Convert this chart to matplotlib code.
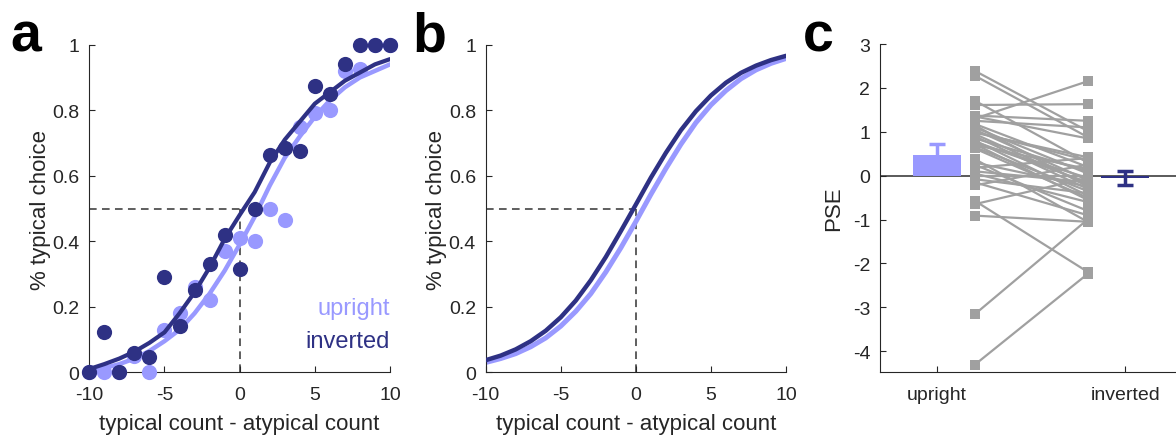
import numpy as np
import matplotlib
matplotlib.use("Agg")
import matplotlib.pyplot as plt

plt.rcParams["font.family"] = ["Liberation Sans", "DejaVu Sans"]
plt.rcParams["axes.unicode_minus"] = False

LIGHT = "#9999ff"
DARK = "#2e3184"
GRAY = "#a0a0a0"
AXC = "#262626"

# panel a: single-subject proportions
x_counts = np.arange(-10, 11)
up_prop = [0.0, 0.0, 0.0, 0.05, 0.0, 0.13, 0.18, 0.26, 0.22, 0.37, 0.41,
           0.40, 0.50, 0.465, 0.75, 0.79, 0.80, 0.92, 0.925, 1.0, 1.0]
inv_prop = [0.0, 0.124, 0.0, 0.06, 0.046, 0.29, 0.14, 0.25, 0.33, 0.42, 0.315,
            0.50, 0.663, 0.685, 0.675, 0.873, 0.85, 0.94, 1.0, 1.0, 1.0]
# panel a: fitted curves (at each count)
up_fit_a = [0.005, 0.013, 0.025, 0.042, 0.065, 0.095, 0.13, 0.18, 0.24, 0.31, 0.39,
            0.475, 0.57, 0.655, 0.72, 0.78, 0.83, 0.87, 0.90, 0.92, 0.94]
inv_fit_a = [0.01, 0.025, 0.042, 0.063, 0.09, 0.122, 0.18, 0.244, 0.32, 0.407, 0.48,
             0.55, 0.64, 0.71, 0.765, 0.82, 0.855, 0.89, 0.915, 0.94, 0.956]
# panel b: group-level fitted curves
up_fit_b = [0.030, 0.042, 0.057, 0.078, 0.105, 0.141, 0.186, 0.240, 0.306, 0.380, 0.460,
            0.543, 0.622, 0.696, 0.762, 0.816, 0.860, 0.896, 0.923, 0.943, 0.958]
inv_fit_b = [0.037, 0.051, 0.070, 0.095, 0.127, 0.168, 0.219, 0.281, 0.352, 0.431, 0.512,
             0.594, 0.670, 0.739, 0.797, 0.845, 0.884, 0.914, 0.936, 0.953, 0.966]

# panel c: per-subject PSE
pse_upright = [2.39, 2.28, 1.71, 1.61, 1.37, 1.30, 1.25, 1.18, 1.10, 1.05, 1.00, 0.95, 0.90,
               0.85, 0.80, 0.75, 0.70, 0.65, 0.62, 0.38, 0.30, 0.25, 0.18, 0.10, 0.05, 0.00,
               -0.08, -0.15, -0.22, -0.57, -0.65, -0.91, -3.16, -4.31, 1.15, 0.98, 0.78, 0.72, 1.35]
pse_inverted = [1.02, 0.88, 0.30, 1.63, 1.25, 2.15, 1.10, 0.20, 0.05, -0.10, 0.35, -0.20, -0.30,
                0.10, -0.45, -0.05, 0.15, -0.35, -0.50, -1.05, -0.25, -0.80, 0.40, -0.15, -0.60, 0.00,
                -0.40, -0.90, 0.25, -2.19, -0.05, -1.05, -1.00, -2.24, -0.25, 0.42, -0.15, -0.55, 0.85]
pse_mean = [0.48, -0.06]
pse_sem = [0.24, 0.16]
conditions = ["upright", "inverted"]

fig = plt.figure(figsize=(11.76, 4.39), dpi=100)
W, H = 1176, 439


def add_ax(x0, x1, y0, y1):
    return fig.add_axes([x0 / W, 1 - y1 / H, (x1 - x0) / W, (y1 - y0) / H])


def style(ax):
    for s in ["top", "right"]:
        ax.spines[s].set_visible(False)
    for s in ["left", "bottom"]:
        ax.spines[s].set_color(AXC)
        ax.spines[s].set_linewidth(0.8)
    ax.tick_params(direction="in", length=4, width=0.8, colors=AXC, labelsize=14)
    ax.tick_params(axis="x", pad=10)
    ax.tick_params(axis="y", pad=7)


def psych_axes(ax):
    ax.plot([-10, 0], [0.5, 0.5], "--", color="#333333", lw=1.1, dashes=(5, 3.5), zorder=1)
    ax.plot([0, 0], [0, 0.5], "--", color="#333333", lw=1.1, dashes=(5, 3.5), zorder=1)
    ax.set_xlim(-10, 10)
    ax.set_ylim(0, 1)
    ax.set_xticks([-10, -5, 0, 5, 10])
    ax.set_yticks([0, 0.2, 0.4, 0.6, 0.8, 1])
    ax.set_yticklabels(["0", "0.2", "0.4", "0.6", "0.8", "1"])
    ax.set_xlabel("typical count - atypical count", fontsize=16, color=AXC, labelpad=7)
    ax.set_ylabel("% typical choice", fontsize=16, color=AXC, labelpad=1)
    style(ax)


# a
axa = add_ax(89.3, 390, 45.7, 373.3)
axa.plot(x_counts, up_fit_a, color=LIGHT, lw=3.2, zorder=2, solid_capstyle="round")
axa.scatter(x_counts, up_prop, s=120, color=LIGHT, zorder=3, clip_on=False, linewidths=0)
axa.plot(x_counts, inv_fit_a, color=DARK, lw=3.0, zorder=4, solid_capstyle="round")
axa.scatter(x_counts, inv_prop, s=120, color=DARK, zorder=5, clip_on=False, linewidths=0)
psych_axes(axa)
axa.text(10, 0.195, "upright", color=LIGHT, fontsize=17, ha="right", va="center")
axa.text(10, 0.095, "inverted", color=DARK, fontsize=17, ha="right", va="center")

# b
axb = add_ax(485.7, 786, 45.7, 373.3)
axb.plot(x_counts, up_fit_b, color=LIGHT, lw=3.6, zorder=2, solid_capstyle="round")
axb.plot(x_counts, inv_fit_b, color=DARK, lw=3.2, zorder=3, solid_capstyle="round")
psych_axes(axb)

# c
xpos = [1, 2]
axc = add_ax(880, 1176, 45, 373.3)
axc.axhline(0, color="#5a5a5a", lw=1.4, zorder=0)
for i in range(2):
    c = LIGHT if i == 0 else DARK
    axc.bar(xpos[i], pse_mean[i], width=0.255, color=c, zorder=2)
    axc.errorbar(xpos[i], pse_mean[i], yerr=pse_sem[i], color=c, lw=2.5,
                 capsize=6, capthick=2.5, zorder=2)
for u, v in zip(pse_upright, pse_inverted):
    axc.plot([1.2, 1.8], [u, v], color=GRAY, lw=1.6, marker="s", ms=7,
             markeredgewidth=0, zorder=3)
axc.set_xlim(0.697, 2.27)
axc.set_ylim(-4.48, 3)
axc.set_yticks(range(-4, 4))
axc.set_xticks(xpos)
axc.set_xticklabels(conditions)
axc.set_ylabel("PSE", fontsize=16, color=AXC, labelpad=6)
style(axc)

for lbl, xp in [("a", 10), ("b", 412), ("c", 803)]:
    fig.text(xp / W, 1 - 52 / H, lbl, fontsize=40, fontweight="bold", color="black",
             ha="left", va="baseline")

fig.savefig("out.png", dpi=100)
